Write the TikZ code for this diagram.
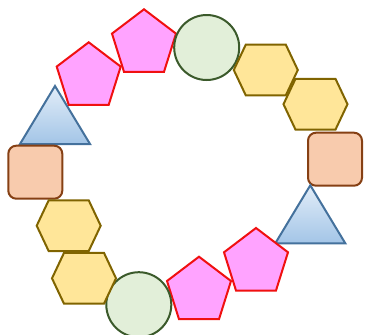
\documentclass[tikz,border=0pt]{standalone}
\usetikzlibrary{calc}
\definecolor{pentfill}{HTML}{FFA3FF}
\definecolor{pentline}{HTML}{F01010}
\definecolor{hexfill}{HTML}{FFE699}
\definecolor{hexline}{HTML}{806400}
\definecolor{circfill}{HTML}{E2EFD9}
\definecolor{circline}{HTML}{3B5A2B}
\definecolor{sqfill}{HTML}{F8CBAD}
\definecolor{sqline}{HTML}{864014}
\definecolor{tritop}{HTML}{E2EDF8}
\definecolor{tribot}{HTML}{A3C5E7}
\definecolor{triline}{HTML}{44719C}
\tikzset{
  shp/.style={line width=2pt, line join=miter},
  pentstyle/.style={shp, draw=pentline, fill=pentfill},
  hexstyle/.style={shp, draw=hexline, fill=hexfill},
  circstyle/.style={shp, draw=circline, fill=circfill},
  sqstyle/.style={shp, draw=sqline, fill=sqfill, rounded corners=8pt},
  tristyle/.style={shp, draw=triline, top color=tritop, bottom color=tribot},
  pent/.pic={\draw[pentstyle] (0,0) -- (32,24.3) -- (20,62.5) -- (-20,62.5) -- (-32,24.3) -- cycle;},
  hexa/.pic={\draw[hexstyle] (-32,0) -- (-20,-25.4) -- (20,-25.4) -- (32,0) -- (20,25.4) -- (-20,25.4) -- cycle;},
  circ/.pic={\draw[circstyle] (0,0) circle[radius=32.5];},
  tri/.pic={\draw[tristyle] (0,0) -- (35,58) -- (-35,58) -- cycle;},
  sq/.pic={\draw[sqstyle] (0,0) rectangle (54,53);}
}
\begin{document}
\begin{tikzpicture}[x=1pt,y=-1pt]
\useasboundingbox (0,0) rectangle (365,335);
% left side
\pic at (55,86) {tri};
\pic at (8.3,145.7) {sq};
\pic at (88.7,42.3) {pent};
\pic at (144,9.3) {pent};
\pic at (206.7,47.5) {circ};
\pic at (265.8,70) {hexa};
\pic at (315.5,104.2) {hexa};
\pic at (308,132.7) {sq};
\pic at (310.3,185.3) {tri};
\pic at (256,228) {pent};
\pic at (199,256.7) {pent};
\pic at (138.8,304.7) {circ};
\pic at (84,278.3) {hexa};
\pic at (68.7,225.7) {hexa};
\end{tikzpicture}
\end{document}
